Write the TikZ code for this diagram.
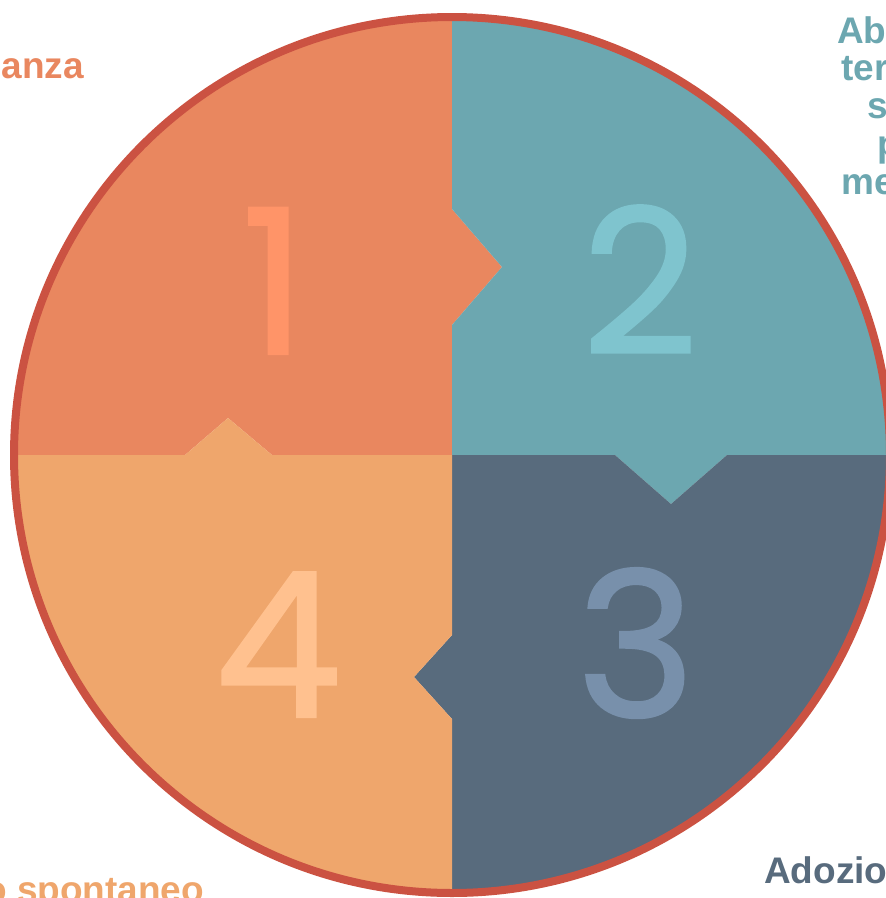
\documentclass[tikz,border=0pt]{standalone}
\usepackage{fontspec}
\setmainfont{Liberation Sans}
\newfontfamily\digitfont[FakeBold=1.2]{Poppins}
\definecolor{qone}{HTML}{E9875F}
\definecolor{qtwo}{HTML}{6CA7B0}
\definecolor{qthree}{HTML}{586B7D}
\definecolor{qfour}{HTML}{EFA66C}
\definecolor{ring}{HTML}{CB5242}
\definecolor{done}{HTML}{FF9468}
\definecolor{dtwo}{HTML}{7FC4CE}
\definecolor{dthree}{HTML}{7890AB}
\definecolor{dfour}{HTML}{FFC18F}
\begin{document}
\begin{tikzpicture}[x=1pt,y=-1pt,
  digit/.style={inner sep=0pt,anchor=base,font=\digitfont\fontsize{202}{202}\selectfont},
  lbl/.style={inner sep=0pt,font=\bfseries\fontsize{37}{37}\selectfont}]
\useasboundingbox (0,0) rectangle (886,898);
\coordinate (c) at (452,455);
\begin{scope}
\clip (c) circle (438);
\fill[qone] (452,455) -- (452,325) -- (502,267) -- (452,209) -- (452,-100) -- (-100,-100) -- (-100,455) -- (185,455) -- (228,418) -- (272,455) -- cycle;
\fill[qtwo] (452,455) -- (452,325) -- (502,267) -- (452,209) -- (452,-100) -- (1000,-100) -- (1000,455) -- (727,455) -- (671,504) -- (615,455) -- cycle;
\fill[qthree] (452,455) -- (615,455) -- (671,504) -- (727,455) -- (1000,455) -- (1000,1000) -- (452,1000) -- (452,719) -- (414,677) -- (452,635) -- cycle;
\fill[qfour] (452,455) -- (452,635) -- (414,677) -- (452,719) -- (452,1000) -- (-100,1000) -- (-100,455) -- (185,455) -- (228,418) -- (272,455) -- cycle;
\end{scope}
\draw[ring,line width=8pt] (c) circle (438);
\node[digit,text=done] (d1) at (274,354) {1};
\node[digit,text=dtwo] (d2) at (640,354) {2};
\node[digit,text=dthree] (d3) at (636,717) {3};
\node[digit,text=dfour] (d4) at (278,717) {4};
\node[lbl,text=qone,anchor=base east] (t1) at (84,78) {anza};
\node[lbl,text=qtwo,anchor=base west] (t2a) at (837,43) {Ab};
\node[lbl,text=qtwo,anchor=base west] (t2b) at (841,80) {ter};
\node[lbl,text=qtwo,anchor=base west] (t2c) at (867,118) {s};
\node[lbl,text=qtwo,anchor=base west] (t2d) at (877,156) {p};
\node[lbl,text=qtwo,anchor=base west] (t2e) at (841,194) {me};
\node[lbl,text=qthree,anchor=base west] (t3) at (764,883) {Adozio};
\node[lbl,text=qfour,anchor=base west] (t4) at (-16,902) {o spontaneo};
\end{tikzpicture}
\end{document}
